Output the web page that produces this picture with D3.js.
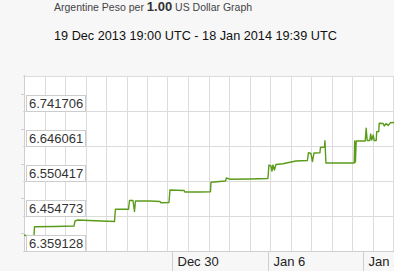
<!DOCTYPE html>
<html>
<head>
<meta charset="utf-8">
<script src="https://cdn.jsdelivr.net/npm/d3@7"></script>
<style>
  html, body { margin: 0; padding: 0; background: #f7f7f7; }
  svg { display: block; font-family: Arial, "Liberation Sans", sans-serif; }
</style>
</head>
<body>
<svg id="chart" width="394" height="271"></svg>
<script>
// ARS per 1 USD (UTC times)
const times = [
  '2013-12-19T04:00', '2013-12-19T14:30', '2013-12-19T21:36', '2013-12-19T22:26',
  '2013-12-21T10:26', '2013-12-22T19:47', '2013-12-22T21:32', '2013-12-23T02:48',
  '2013-12-24T08:40', '2013-12-25T18:53', '2013-12-25T20:36', '2013-12-26T19:30',
  '2013-12-26T21:14', '2013-12-27T03:22', '2013-12-27T06:00', '2013-12-27T07:46',
  '2013-12-28T09:13', '2013-12-29T02:46', '2013-12-29T04:31', '2013-12-29T18:34',
  '2013-12-29T20:19', '2013-12-30T20:54', '2013-12-30T22:40', '2014-01-01T01:00',
  '2014-01-01T19:26', '2014-01-01T20:18', '2014-01-02T21:46', '2014-01-02T23:32',
  '2014-01-03T05:40', '2014-01-04T16:48', '2014-01-06T00:24', '2014-01-06T02:08',
  '2014-01-06T05:40', '2014-01-06T07:26', '2014-01-06T09:10', '2014-01-06T11:49',
  '2014-01-06T14:26', '2014-01-07T02:43', '2014-01-08T01:34', '2014-01-08T21:44',
  '2014-01-08T23:30', '2014-01-09T03:54', '2014-01-09T06:30', '2014-01-09T09:12',
  '2014-01-09T19:42', '2014-01-09T20:36', '2014-01-10T03:36', '2014-01-10T04:30',
  '2014-01-10T06:12', '2014-01-12T07:54', '2014-01-12T08:42', '2014-01-12T10:00',
  '2014-01-12T11:24', '2014-01-13T03:12', '2014-01-13T04:54', '2014-01-13T06:42',
  '2014-01-13T11:06', '2014-01-13T12:48', '2014-01-13T14:36', '2014-01-13T17:12',
  '2014-01-13T19:00', '2014-01-13T22:30', '2014-01-13T23:24', '2014-01-14T02:54',
  '2014-01-14T03:48', '2014-01-14T10:48', '2014-01-14T12:36', '2014-01-14T16:06',
  '2014-01-14T19:36', '2014-01-14T23:06', '2014-01-15T09:36', '2014-01-18T19:39'
];
const rates = [
  6.4020, 6.4001, 6.4015, 6.4255,
  6.4261, 6.4274, 6.4411, 6.4438,
  6.4417, 6.4397, 6.4731, 6.4731,
  6.4971, 6.4971, 6.4671, 6.4958,
  6.4958, 6.4944, 6.4911, 6.4917,
  6.5258, 6.5245, 6.5203, 6.5203,
  6.5209, 6.5469, 6.5504, 6.5586,
  6.5553, 6.5559, 6.5572, 6.5941,
  6.5914, 6.5777, 6.5941, 6.5805,
  6.5955, 6.5977, 6.6050, 6.6064,
  6.6277, 6.6256, 6.6037, 6.6269,
  6.6277, 6.6419, 6.6433, 6.6605,
  6.5996, 6.5996, 6.6597, 6.6023,
  6.6597, 6.6597, 6.6944, 6.6611,
  6.6611, 6.6788, 6.6624, 6.6761,
  6.6611, 6.6611, 6.6851, 6.6857,
  6.7081, 6.7075, 6.7007, 6.7075,
  6.7021, 6.7094, 6.7108, 6.7115
];

// y axis labels (each label sits on its gridline)
const yTicks = [6.359128, 6.454773, 6.550417, 6.646061, 6.741706];
// weekly x labels
const weekStarts = ['2013-12-30', '2014-01-06', '2014-01-13'];

const titleStart = 'Argentine Peso per ';
const titleAmount = '1.00';
const titleEnd = ' US Dollar Graph';
const subtitle = '19 Dec 2013 19:00 UTC - 18 Jan 2014 19:39 UTC';

const parseTime = d3.utcParse('%Y-%m-%dT%H:%M');
const parseDay = d3.utcParse('%Y-%m-%d');
const data = times.map((t, i) => ({ date: parseTime(t), rate: rates[i] }));

const svg = d3.select('#chart');
const W = 394, H = 271;
const plot = { left: 24, top: 76, bottom: 251, right: 394 };

// the graph is wider than the window; right part is cut off
const start = parseTime('2013-12-19T04:00');
const end = parseTime('2014-01-18T04:00');
const x = d3.scaleUtc().domain([start, end]).range([plot.left, 434]);

const step = yTicks[1] - yTicks[0];
const y = d3.scaleLinear()
  .domain([yTicks[0], yTicks[yTicks.length - 1] + step])
  .range([plot.bottom, plot.top]);

// titles
const t1 = svg.append('text')
  .attr('x', 54).attr('y', 11)
  .attr('fill', '#444')
  .style('font-size', '10.5px');
t1.append('tspan').text(titleStart);
t1.append('tspan').text(titleAmount)
  .style('font-weight', 'bold').style('font-size', '13px').attr('fill', '#333');
t1.append('tspan').text(titleEnd);

svg.append('text')
  .attr('x', 54).attr('y', 40)
  .attr('fill', '#111')
  .style('font-size', '12.7px')
  .text(subtitle);

// plot background
svg.append('rect')
  .attr('x', plot.left).attr('y', plot.top)
  .attr('width', plot.right - plot.left).attr('height', plot.bottom - plot.top)
  .attr('fill', '#fff');

// vertical gridlines every 36 hours
const vGrid = d3.range(0, 22).map((k) => new Date(+start + k * 36 * 3600e3));
svg.append('g')
  .selectAll('line')
  .data(vGrid)
  .join('line')
  .attr('x1', (d) => Math.round(x(d)) + 0.5)
  .attr('x2', (d) => Math.round(x(d)) + 0.5)
  .attr('y1', plot.top).attr('y2', plot.bottom)
  .attr('stroke', '#dcdcdc');

// horizontal gridlines at each label value plus the top edge
const hGrid = yTicks.concat([yTicks[yTicks.length - 1] + step]);
svg.append('g')
  .selectAll('line')
  .data(hGrid)
  .join('line')
  .attr('x1', plot.left - 1).attr('x2', W)
  .attr('y1', (d) => Math.round(y(d)) + 0.5)
  .attr('y2', (d) => Math.round(y(d)) + 0.5)
  .attr('stroke', '#dcdcdc');

// left axis line and minor ticks between gridlines
svg.append('line')
  .attr('x1', plot.left + 0.5).attr('x2', plot.left + 0.5)
  .attr('y1', plot.top - 1).attr('y2', plot.bottom)
  .attr('stroke', '#cfcfcf');
svg.append('g')
  .selectAll('line')
  .data(yTicks.map((v) => v + step / 2))
  .join('line')
  .attr('x1', plot.left - 3).attr('x2', plot.left)
  .attr('y1', (d) => Math.round(y(d)) + 0.5)
  .attr('y2', (d) => Math.round(y(d)) + 0.5)
  .attr('stroke', '#cfcfcf');

// rate line
svg.append('path')
  .datum(data)
  .attr('fill', 'none')
  .attr('stroke', '#5a9c1a')
  .attr('stroke-width', 1.4)
  .attr('stroke-linejoin', 'round')
  .attr('d', d3.line().x((d) => x(d.date)).y((d) => y(d.rate)));

// y labels in boxes resting on their gridline
const yLab = svg.append('g')
  .selectAll('g')
  .data(yTicks)
  .join('g')
  .attr('transform', (d) => `translate(26,${Math.round(y(d)) - 16})`);
yLab.append('rect')
  .attr('x', 0.5).attr('y', 0.5)
  .attr('width', 59).attr('height', 16)
  .attr('fill', '#fff')
  .attr('stroke', '#cccccc');
yLab.append('text')
  .attr('x', 3).attr('y', 13)
  .attr('fill', '#333')
  .style('font-size', '13px')
  .text((d) => d3.format('.6f')(d));

// bottom axis band
svg.append('rect')
  .attr('x', plot.left).attr('y', plot.bottom + 1)
  .attr('width', W - plot.left).attr('height', H - plot.bottom)
  .attr('fill', '#f7f7f7');
svg.append('line')
  .attr('x1', plot.left).attr('x2', W)
  .attr('y1', plot.bottom + 0.5).attr('y2', plot.bottom + 0.5)
  .attr('stroke', '#cfcfcf');

const weeks = weekStarts.map(parseDay);
const xLab = svg.append('g')
  .selectAll('g')
  .data(weeks)
  .join('g')
  .attr('transform', (d) => `translate(${Math.round(x(d)) + 0.5},0)`);
xLab.append('line')
  .attr('y1', plot.bottom).attr('y2', H)
  .attr('stroke', '#cfcfcf');
xLab.append('text')
  .attr('x', 5).attr('y', 266)
  .attr('fill', '#222')
  .style('font-size', '13px')
  .text(d3.utcFormat('%b %-d'));
</script>
</body>
</html>
